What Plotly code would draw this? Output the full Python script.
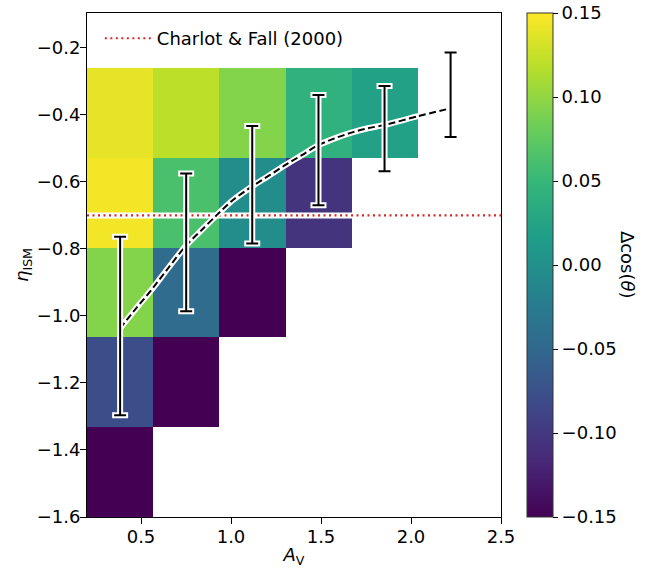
import plotly.graph_objects as go

# ---- data ----
x_edges = [0.2, 0.567, 0.935, 1.302, 1.669, 2.037, 2.404]
y_edges = [-1.6, -1.332, -1.064, -0.796, -0.528, -0.26]
# delta cos(theta), rows bottom -> top, columns left -> right
dcos = [
    [-0.15, None, None, None, None, None],
    [-0.078, -0.15, None, None, None, None],
    [0.093, -0.045, -0.15, None, None, None],
    [0.145, 0.063, -0.003, -0.105, None, None],
    [0.14, 0.12, 0.093, 0.042, 0.021, None],
]

curve_av = [0.383, 0.475, 0.567, 0.66, 0.752, 0.84, 0.919, 1.011, 1.113, 1.206,
            1.298, 1.391, 1.483, 1.576, 1.669, 1.76, 1.854, 2.039, 2.215]
curve_eta = [-1.037, -0.976, -0.916, -0.851, -0.789, -0.742, -0.700, -0.654, -0.615, -0.583,
             -0.551, -0.521, -0.491, -0.470, -0.453, -0.440, -0.430, -0.404, -0.381]

err_av = [0.384, 0.751, 1.118, 1.486, 1.853, 2.220]
err_lo = [-1.296, -0.986, -0.784, -0.670, -0.568, -0.466]
err_hi = [-0.764, -0.575, -0.433, -0.341, -0.314, -0.214]

cf_eta = -0.7
x_range = [0.2, 2.5]
y_range = [-1.6, -0.096]

x_ticks = [0.5, 1.0, 1.5, 2.0, 2.5]
y_ticks = [-1.6, -1.4, -1.2, -1.0, -0.8, -0.6, -0.4, -0.2]
cb_ticks = [-0.15, -0.10, -0.05, 0.00, 0.05, 0.10, 0.15]
cb_min, cb_max = -0.15, 0.15

FONT = "DejaVu Sans"
err_mid = [(a + b) / 2 for a, b in zip(err_lo, err_hi)]
err_half = [(b - a) / 2 for a, b in zip(err_lo, err_hi)]

fig = go.Figure()

fig.add_trace(go.Heatmap(
    x=x_edges, y=y_edges, z=dcos,
    colorscale="Viridis", zmin=cb_min - 1e-9, zmax=cb_max + 1e-9,
    hoverongaps=False, showscale=True,
    colorbar=dict(
        x=1.063, xanchor="left", xref="paper", xpad=0, ypad=0,
        y=0.5, yanchor="middle", len=1, lenmode="fraction",
        thickness=26, outlinewidth=1, outlinecolor="#333",
        tickvals=cb_ticks, tickformat=".2f", ticks="outside", ticklen=5,
        ticklabeloverflow="allow",
        tickcolor="black", tickfont=dict(family=FONT, size=18, color="black"),
    ),
))

# Charlot & Fall line (white outline + red dotted)
fig.add_trace(go.Scatter(
    x=x_range, y=[cf_eta, cf_eta], mode="lines",
    line=dict(color="white", width=6), showlegend=False, hoverinfo="skip"))
fig.add_trace(go.Scatter(
    x=x_range, y=[cf_eta, cf_eta], mode="lines", name="Charlot & Fall (2000)",
    line=dict(color="#d62728", width=2.2, dash="2px,3.5px"), showlegend=True))

# dashed curve with white outline
fig.add_trace(go.Scatter(
    x=curve_av, y=curve_eta, mode="lines",
    line=dict(color="white", width=6, shape="spline", smoothing=0.8),
    showlegend=False, hoverinfo="skip"))
fig.add_trace(go.Scatter(
    x=curve_av, y=curve_eta, mode="lines",
    line=dict(color="black", width=2, dash="7px,3.5px", shape="spline", smoothing=0.8),
    showlegend=False))

# error bars with white outline
fig.add_trace(go.Scatter(
    x=err_av, y=err_mid, mode="markers", marker=dict(size=1, opacity=0),
    error_y=dict(type="data", array=err_half, color="white", thickness=6, width=8),
    showlegend=False, hoverinfo="skip"))
fig.add_trace(go.Scatter(
    x=err_av, y=err_mid, mode="markers", marker=dict(size=1, opacity=0),
    error_y=dict(type="data", array=err_half, color="black", thickness=2, width=6),
    showlegend=False))

axis_common = dict(
    showgrid=False, zeroline=False, ticks="outside", ticklen=6, tickwidth=1,
    tickcolor="black", showline=True, linecolor="black", linewidth=1, mirror=True,
    tickfont=dict(family=FONT, size=18, color="black"), automargin=False,
)

fig.update_layout(
    width=659, height=568,
    margin=dict(l=87, r=158, t=13, b=50.5),
    paper_bgcolor="white", plot_bgcolor="white",
    font=dict(family=FONT, size=18, color="black"),
    xaxis=dict(range=x_range, tickvals=x_ticks, tickformat=".1f", ticklabelstandoff=-3,
               title=dict(text="<i>A</i><sub>V</sub>", standoff=5,
                          font=dict(family=FONT, size=18)), **axis_common),
    yaxis=dict(range=y_range, tickvals=y_ticks, tickformat=".1f", ticklabelstandoff=-4,
               title=dict(text="<i>η</i><sub>ISM</sub>", standoff=3,
                          font=dict(family=FONT, size=18)), **axis_common),
    legend=dict(x=0.031, y=0.986, xanchor="left", yanchor="top",
                bgcolor="rgba(255,255,255,0)", font=dict(family=FONT, size=18),
                itemwidth=47),
    annotations=[dict(
        text="Δcos(<i>θ</i>)", xref="paper", yref="paper", x=1.307, y=0.5,
        xanchor="center", yanchor="middle",
        showarrow=False, textangle=90, font=dict(family=FONT, size=18, color="black"))],
)

# remove the browser's default 8px body margin so the figure fills the window
fig.write_html("out.html", config={"displayModeBar": False},
               post_script="document.body.style.margin='0';")
